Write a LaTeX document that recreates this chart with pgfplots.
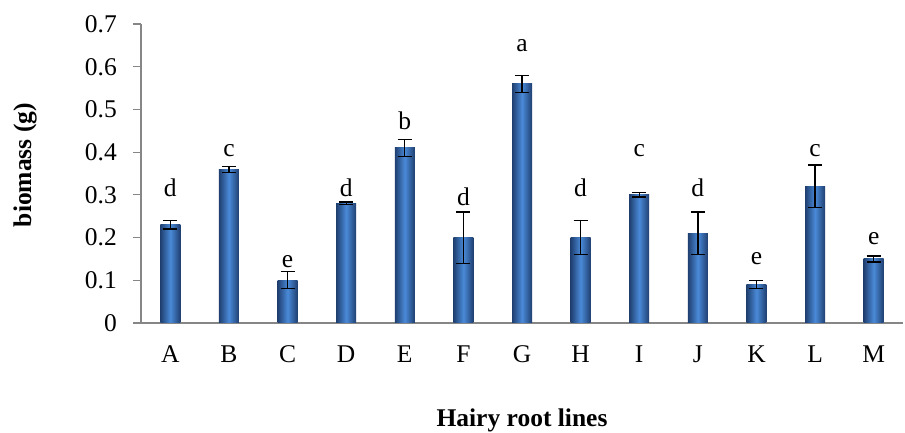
\documentclass[border=0pt]{standalone}
\usepackage{fontspec}
\setmainfont{Liberation Serif}
\usepackage{pgfplots}
\usepackage{pgfplotstable}
\pgfplotsset{compat=1.18}
\definecolor{bardark}{HTML}{1F3F70}
\definecolor{barmid}{HTML}{4A8AD8}
\definecolor{axgray}{HTML}{868686}
\pgfplotstableread{
x y e
0 0.23 0.010
1 0.36 0.007
2 0.10 0.020
3 0.28 0.003
4 0.41 0.020
5 0.20 0.060
6 0.56 0.020
7 0.20 0.040
8 0.30 0.005
9 0.21 0.050
10 0.09 0.010
11 0.32 0.050
12 0.15 0.007
}\bars
\pgfplotstableread{
x ly l
0 0.295 d
1 0.389 c
2 0.130 e
3 0.295 d
4 0.454 b
5 0.274 d
6 0.635 a
7 0.295 d
8 0.389 c
9 0.295 d
10 0.136 e
11 0.389 c
12 0.183 e
}\letters
\newcommand\ff{\fontsize{25.5}{30}\selectfont}
\begin{document}
\begin{tikzpicture}[font=\ff]
\useasboundingbox (0,0) rectangle (905pt,433pt);
\begin{axis}[
  at={(141pt,110pt)}, anchor=south west,
  scale only axis, width=762pt, height=299pt,
  xmin=-0.5, xmax=12.5, ymin=0, ymax=0.7,
  axis x line*=bottom, axis y line*=left,
  axis line style={axgray, line width=1.2pt},
  /pgf/number format/assume math mode=true,
  xtick={0,1,2,3,4,5,6,7,8,9,10,11,12},
  xticklabels={A,B,C,D,E,F,G,H,I,J,K,L,M},
  ytick={0,0.1,0.2,0.3,0.4,0.5,0.6,0.7},
  yticklabels={0,0.1,0.2,0.3,0.4,0.5,0.6,0.7},
  tick align=outside, major tick length=8pt,
  xtick style={draw=none},
  ytick style={axgray, line width=1.2pt},
  xticklabel style={anchor=base, yshift=-32pt, font=\ff},
  yticklabel style={anchor=east, inner sep=0pt, xshift=-16pt, font=\ff},
  xlabel={\textbf{Hairy root lines}},
  ylabel={\textbf{biomass (g)}},
  xlabel style={at={(axis description cs:0.5,0)}, anchor=base, yshift=-104pt, font=\ff},
  ylabel style={at={(axis description cs:-0.152,0.528)}, anchor=center, font=\ff},
  clip=false,
]
\pgfplotsinvokeforeach{0,...,12}{
\addplot[ybar, bar width=20pt, draw=none,
  left color=bardark, right color=bardark, middle color=barmid,
  restrict x to domain=#1:#1,
  error bars/.cd, y dir=both, y explicit,
  error bar style={black, line width=1.3pt},
  error mark options={rotate=90, mark size=7pt, line width=1.3pt, black}]
  table[x=x, y=y, y error=e] {\bars};
}
\addplot[only marks, mark=none, nodes near coords, point meta=explicit symbolic,
  nodes near coords style={anchor=base, inner sep=0pt, font=\ff}]
  table[x=x, y=ly, meta=l] {\letters};
\end{axis}
\end{tikzpicture}
\end{document}
